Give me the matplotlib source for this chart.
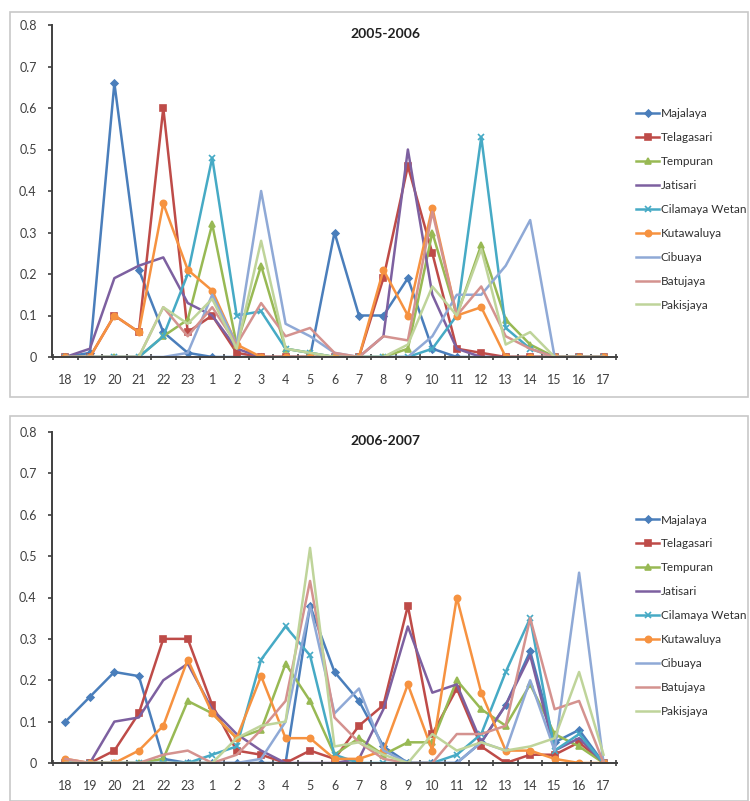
import matplotlib.pyplot as plt
from matplotlib.patches import Rectangle
import numpy as np

plt.rcParams['font.family'] = ['Lato', 'DejaVu Sans']

# hours along the x axis
hours = ['18', '19', '20', '21', '22', '23'] + [str(h) for h in range(1, 18)]

stations = ['Majalaya', 'Telagasari', 'Tempuran', 'Jatisari', 'Cilamaya Wetan',
            'Kutawaluya', 'Cibuaya', 'Batujaya', 'Pakisjaya']

# 2005-2006 values
majalaya_05 = [0, 0.01, 0.66, 0.21, 0.06, 0.01, 0, 0, 0, 0, 0, 0.30,
               0.10, 0.10, 0.19, 0.02, 0, 0, 0, 0, 0, 0, 0]
telagasari_05 = [0, 0, 0.10, 0.06, 0.60, 0.06, 0.10, 0.01, 0, 0, 0, 0,
                 0, 0.19, 0.46, 0.25, 0.02, 0.01, 0, 0, 0, 0, 0]
tempuran_05 = [0, 0, 0, 0, 0.05, 0.09, 0.32, 0.03, 0.22, 0.02, 0.01, 0,
               0, 0, 0.02, 0.30, 0.10, 0.27, 0.09, 0.03, 0, 0, 0]
jatisari_05 = [0, 0.02, 0.19, 0.22, 0.24, 0.13, 0.10, 0.02, 0, 0, 0, 0,
               0, 0.05, 0.50, 0.15, 0.02, 0, 0, 0, 0, 0, 0]
cilamaya_05 = [0, 0, 0, 0, 0.05, 0.20, 0.48, 0.10, 0.11, 0.02, 0.01, 0,
               0, 0, 0, 0.02, 0.10, 0.53, 0.07, 0.02, 0, 0, 0]
kutawaluya_05 = [0, 0, 0.10, 0.06, 0.37, 0.21, 0.16, 0.03, 0, 0, 0, 0,
                 0, 0.21, 0.10, 0.36, 0.10, 0.12, 0, 0, 0, 0, 0]
cibuaya_05 = [0, 0, 0, 0, 0, 0.01, 0.15, 0.03, 0.40, 0.08, 0.05, 0.01,
              0, 0, 0, 0.05, 0.15, 0.15, 0.22, 0.33, 0, 0, 0]
batujaya_05 = [0, 0, 0, 0, 0.12, 0.05, 0.12, 0.03, 0.13, 0.05, 0.07, 0.01,
               0, 0.05, 0.04, 0.35, 0.10, 0.17, 0.05, 0.02, 0, 0, 0]
pakisjaya_05 = [0, 0, 0, 0, 0.12, 0.08, 0.14, 0.02, 0.28, 0.02, 0.01, 0,
                0, 0, 0.03, 0.17, 0.10, 0.26, 0.03, 0.06, 0, 0, 0]

# 2006-2007 values
majalaya_06 = [0.10, 0.16, 0.22, 0.21, 0.01, 0, 0, 0, 0, 0, 0.38, 0.22,
               0.15, 0.04, 0, 0, 0, 0.05, 0.14, 0.27, 0.05, 0.08, 0]
telagasari_06 = [0, 0, 0.03, 0.12, 0.30, 0.30, 0.14, 0.03, 0.02, 0, 0.03, 0.01,
                 0.09, 0.14, 0.38, 0.07, 0.18, 0.04, 0, 0.02, 0.02, 0.05, 0]
tempuran_06 = [0, 0, 0, 0, 0.01, 0.15, 0.12, 0.06, 0.08, 0.24, 0.15, 0.02,
               0.06, 0.02, 0.05, 0.05, 0.20, 0.13, 0.09, 0.19, 0.07, 0.04, 0]
jatisari_06 = [0, 0, 0.10, 0.11, 0.20, 0.24, 0.13, 0.07, 0.03, 0, 0, 0,
               0.01, 0.13, 0.33, 0.17, 0.19, 0.05, 0.14, 0.26, 0.03, 0.06, 0]
cilamaya_06 = [0, 0, 0, 0, 0, 0, 0.02, 0.04, 0.25, 0.33, 0.26, 0.02,
               0, 0, 0, 0, 0.02, 0.07, 0.22, 0.35, 0.03, 0.07, 0]
kutawaluya_06 = [0.01, 0, 0, 0.03, 0.09, 0.25, 0.12, 0.06, 0.21, 0.06, 0.06, 0.01,
                 0.01, 0.03, 0.19, 0.03, 0.40, 0.17, 0.03, 0.03, 0.01, 0, 0]
cibuaya_06 = [0, 0, 0, 0, 0, 0, 0, 0, 0.01, 0.10, 0.38, 0.12,
              0.18, 0.03, 0, 0, 0, 0.05, 0.03, 0.20, 0.03, 0.46, 0]
batujaya_06 = [0.01, 0, 0, 0, 0.02, 0.03, 0, 0.02, 0.08, 0.15, 0.44, 0.11,
               0.05, 0.01, 0, 0, 0.07, 0.07, 0.09, 0.35, 0.13, 0.15, 0]
pakisjaya_06 = [0, 0, 0, 0, 0, 0, 0, 0.06, 0.09, 0.10, 0.52, 0.04,
                0.05, 0.02, 0, 0.07, 0.03, 0.05, 0.03, 0.04, 0.06, 0.22, 0.02]

series_05 = [majalaya_05, telagasari_05, tempuran_05, jatisari_05, cilamaya_05,
             kutawaluya_05, cibuaya_05, batujaya_05, pakisjaya_05]
series_06 = [majalaya_06, telagasari_06, tempuran_06, jatisari_06, cilamaya_06,
             kutawaluya_06, cibuaya_06, batujaya_06, pakisjaya_06]

# excel 2007 palette
colors = ['#4A7EBB', '#BE4B48', '#98B954', '#7D60A0', '#46AAC5',
          '#F69240', '#8FA9D6', '#D4928F', '#BFD49A']
markers = ['D', 's', '^', '', 'x', 'o', '', '', '']
msizes = [3.5, 5, 4, 0, 4, 4.5, 0, 0, 0]

W, H = 750, 801
fig = plt.figure(figsize=(W / 100, H / 100), dpi=100)

# gray panel frames
for (y0, y1) in [(12, 397), (416, 801)]:
    fig.patches.append(Rectangle((10 / W, 1 - y1 / H), 738 / W, (y1 - y0) / H,
                                 transform=fig.transFigure, fill=False,
                                 edgecolor='#c8c8c8', linewidth=1.2))


def draw_panel(rect, data, title):
    ax = fig.add_axes(rect)
    x = np.arange(len(hours))
    for vals, name, c, m, ms in zip(data, stations, colors, markers, msizes):
        ax.plot(x, vals, color=c, marker=m if m else None, markersize=ms,
                linewidth=1.8, label=name, markeredgewidth=1.2)
    ax.set_xlim(-0.55, len(hours) - 0.45)
    ax.set_ylim(0, 0.8)
    ax.set_yticks(np.arange(0, 0.81, 0.1))
    ax.set_yticklabels(['0'] + [f'{t:.1f}' for t in np.arange(0.1, 0.81, 0.1)])
    ax.set_xticks(x)
    ax.set_xticklabels(hours)
    ax.set_xticks(np.arange(-0.5, len(hours), 1), minor=True)
    ax.tick_params(axis='x', which='major', length=0, pad=12,
                   labelsize=9, colors='#404040')
    ax.tick_params(axis='x', which='minor', length=4, direction='inout',
                   width=1.2, color='#404040')
    ax.tick_params(axis='y', length=3, width=1.2, labelsize=9,
                   colors='#404040', pad=8)
    for s in ['top', 'right']:
        ax.spines[s].set_visible(False)
    for s in ['left', 'bottom']:
        ax.spines[s].set_color('#404040')
        ax.spines[s].set_linewidth(1.4)
    ax.text(0.59, 0.99, title, transform=ax.transAxes, ha='center', va='top',
            fontsize=10, fontweight='bold', color='#202020')
    ax.legend(loc='upper left', bbox_to_anchor=(1.025, 0.765), frameon=False,
              fontsize=8.5, handlelength=2.0, handletextpad=0.1,
              labelspacing=1.1, borderaxespad=0, labelcolor='#303030')
    return ax


draw_panel([52 / W, 1 - 357 / H, 565 / W, 332 / H], series_05, '2005-2006')
draw_panel([52 / W, 1 - 763 / H, 565 / W, 331 / H], series_06, '2006-2007')

fig.savefig('out.png', dpi=100, facecolor='white')
